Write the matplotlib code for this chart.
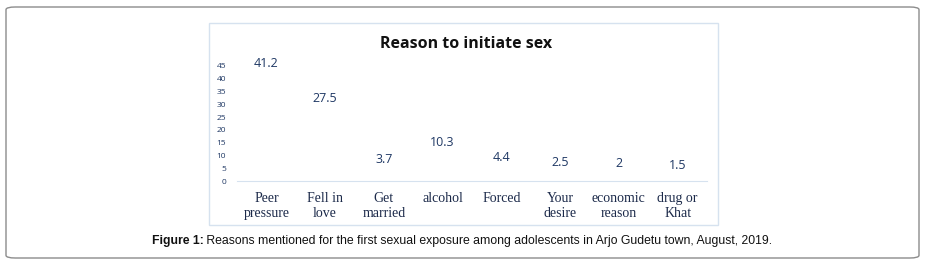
import matplotlib.pyplot as plt
from matplotlib.patches import FancyBboxPatch, Rectangle
from matplotlib.offsetbox import TextArea, HPacker, AnchoredOffsetbox

categories = ['Peer\npressure', 'Fell in\nlove', 'Get\nmarried', 'alcohol',
              'Forced', 'Your\ndesire', 'economic\nreason', 'drug or\nKhat']
percent = [41.2, 27.5, 3.7, 10.3, 4.4, 2.5, 2, 1.5]
yticks = [0, 5, 10, 15, 20, 25, 30, 35, 40, 45]

navy = '#1f3864'

fig = plt.figure(figsize=(9.26, 2.64), dpi=100)

# outer rounded frame
fig.patches.append(FancyBboxPatch((6 / 926, 6 / 264), 913 / 926, 251 / 264,
                                  boxstyle='round,pad=0,rounding_size=0.01',
                                  transform=fig.transFigure, fill=False,
                                  edgecolor='#8c8c8c', linewidth=1.0))
# chart area border
fig.patches.append(Rectangle((209 / 926, (264 - 225) / 264), 509 / 926, 202 / 264,
                             transform=fig.transFigure, fill=False,
                             edgecolor='#d6e2ef', linewidth=1.0))

ax = fig.add_axes([237 / 926, (264 - 181) / 264, 470 / 926, 115 / 264])
x = range(len(categories))
bars = ax.bar(x, percent, width=0.6, color='none')
ax.bar_label(bars, labels=[str(v) for v in percent], padding=4,
             fontsize=9, color=navy, family='Open Sans')

ax.set_xlim(-0.5, len(categories) - 0.5)
ax.set_ylim(0, 45)
ax.set_yticks(yticks)
ax.set_yticklabels([str(t) for t in yticks], fontsize=6, color=navy,
                   family='Open Sans')
ax.set_xticks(list(x))
ax.set_xticklabels(categories, fontsize=10, color='#1c2a4a',
                   family='Liberation Serif', linespacing=1.15)
ax.tick_params(axis='both', length=0)
ax.tick_params(axis='y', pad=8)
ax.tick_params(axis='x', pad=8)
for side in ['top', 'right', 'left']:
    ax.spines[side].set_visible(False)
ax.spines['bottom'].set_color('#d6e2ef')
ax.patch.set_alpha(0)

fig.text(466 / 926, 1 - 44 / 264, 'Reason to initiate sex', ha='center',
         va='center', fontsize=11.5, fontweight='bold', family='Open Sans',
         color='#111111')

# caption with bold prefix
cap_bold = TextArea('Figure 1:', textprops=dict(fontsize=8.8, fontweight='bold',
                                                family='Liberation Sans', color='#111111'))
cap_rest = TextArea(' Reasons mentioned for the first sexual exposure among adolescents '
                    'in Arjo Gudetu town, August, 2019.',
                    textprops=dict(fontsize=8.8, family='Liberation Sans', color='#111111'))
box = HPacker(children=[cap_bold, cap_rest], align='baseline', pad=0, sep=0)
anchored = AnchoredOffsetbox(loc='center', child=box, frameon=False,
                             bbox_to_anchor=(462 / 926, 1 - 241 / 264),
                             bbox_transform=fig.transFigure, borderpad=0, pad=0)
fig.add_artist(anchored)

fig.savefig('out.png', dpi=100)
